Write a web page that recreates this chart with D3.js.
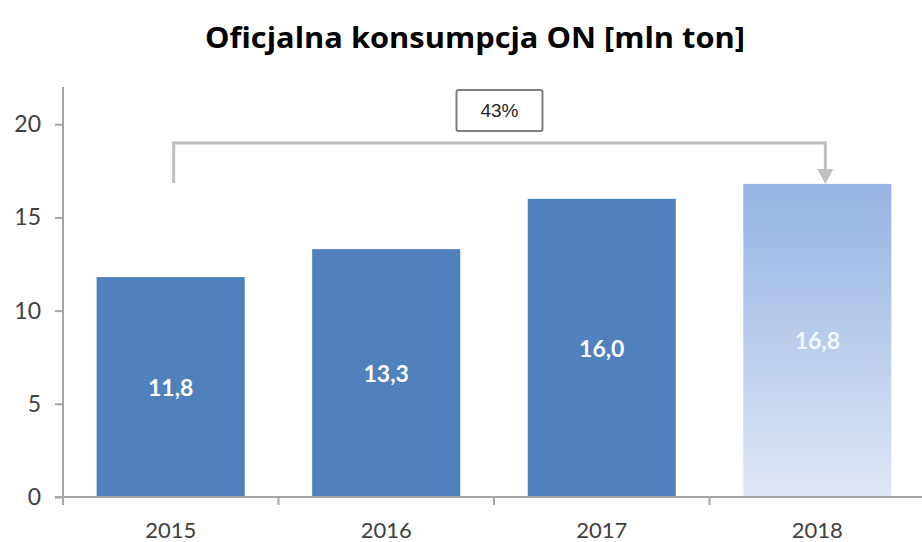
<!DOCTYPE html>
<html>
<head>
<meta charset="utf-8">
<script src="https://cdn.jsdelivr.net/npm/d3@7"></script>
<style>
  body { margin: 0; background: #fff; }
  svg { display: block; }
</style>
</head>
<body>
<div id="chart"></div>
<script>
const width = 922
const height = 542

// Data
const years = ["2015", "2016", "2017", "2018"]
const values = [11.8, 13.3, 16.0, 16.8]
const valueLabels = ["11,8", "13,3", "16,0", "16,8"]
const yTicks = [0, 5, 10, 15, 20]
const growthLabel = "43%"

const svg = d3.select("#chart")
              .append("svg")
                .attr("width", width)
                .attr("height", height)

// Gradient for the forecast bar
const defs = svg.append("defs")
const grad = defs.append("linearGradient")
                 .attr("id", "fadeBar")
                 .attr("x1", 0).attr("y1", 0)
                 .attr("x2", 0).attr("y2", 1)
grad.append("stop").attr("offset", "0%").attr("stop-color", "#95b3e3")
grad.append("stop").attr("offset", "100%").attr("stop-color", "#dfe6f4")

// Scales
const xScale = d3.scaleBand()
                 .domain(years)
                 .range([63, 925])
                 .paddingInner(0.313)
                 .paddingOuter(0.156)

const yScale = d3.scaleLinear()
                 .domain([0, 22])
                 .range([497, 87])

// Title
svg.append("text")
   .attr("x", 475)
   .attr("y", 48)
   .attr("text-anchor", "middle")
   .attr("font-family", "'Open Sans', Lato, sans-serif")
   .attr("font-weight", "bold")
   .attr("font-size", 28)
   .attr("textLength", 540)
   .attr("lengthAdjust", "spacingAndGlyphs")
   .attr("fill", "#000")
   .text("Oficjalna konsumpcja ON [mln ton]")

// Bars
svg.selectAll(".bar")
   .data(values)
   .enter()
   .append("rect")
     .attr("class", "bar")
     .attr("x", (d, i) => xScale(years[i]))
     .attr("y", d => yScale(d))
     .attr("width", xScale.bandwidth())
     .attr("height", d => yScale(0) - yScale(d))
     .attr("fill", (d, i) => i === 3 ? "url(#fadeBar)" : "#4f81bd")

// Bar value labels
svg.selectAll(".bar-label")
   .data(values)
   .enter()
   .append("text")
     .attr("class", "bar-label")
     .attr("x", (d, i) => xScale(years[i]) + xScale.bandwidth() / 2)
     .attr("y", d => (yScale(d) + yScale(0)) / 2 + 9)
     .attr("text-anchor", "middle")
     .attr("font-family", "Lato, 'Open Sans', sans-serif")
     .attr("font-weight", "bold")
     .attr("font-size", 23)
     .attr("fill", (d, i) => i === 3 ? "#f4f7fc" : "#fff")
     .text((d, i) => valueLabels[i])

// Y axis
const yAxis = d3.axisLeft(yScale)
                .tickValues(yTicks)
                .tickSize(8)
                .tickPadding(14)
                .tickFormat(d3.format("d"))

const yAxisG = svg.append("g")
                  .attr("transform", "translate(63, 0)")
                  .call(yAxis)
yAxisG.select(".domain").attr("stroke", "#a6a6a6").attr("stroke-width", 2)
      .attr("d", `M0,${yScale(22)}V${yScale(0) + 8}`)
yAxisG.selectAll(".tick line").attr("stroke", "#a6a6a6").attr("stroke-width", 2)
yAxisG.selectAll(".tick text")
      .attr("font-family", "Lato, 'Open Sans', sans-serif")
      .attr("font-size", 23)
      .attr("fill", "#404040")

// X axis: baseline with ticks at category boundaries
const xAxisG = svg.append("g")
                  .attr("transform", `translate(0, ${yScale(0)})`)
xAxisG.append("line")
      .attr("x1", 55).attr("x2", width)
      .attr("stroke", "#a6a6a6").attr("stroke-width", 2)
const step = xScale.step()
xAxisG.selectAll(".xtick")
      .data(years.slice(1))
      .enter()
      .append("line")
        .attr("x1", d => xScale(d) - step * 0.313 / 2)
        .attr("x2", d => xScale(d) - step * 0.313 / 2)
        .attr("y1", 0).attr("y2", 8)
        .attr("stroke", "#a6a6a6").attr("stroke-width", 2)
xAxisG.selectAll(".xlabel")
      .data(years)
      .enter()
      .append("text")
        .attr("x", d => xScale(d) + xScale.bandwidth() / 2)
        .attr("y", 41)
        .attr("text-anchor", "middle")
        .attr("font-family", "Lato, 'Open Sans', sans-serif")
        .attr("font-size", 22)
        .attr("fill", "#404040")
        .text(d => d)

// Growth bracket from 2015 to 2018
const x0 = xScale(years[0]) + xScale.bandwidth() / 2 + 3
const x3 = xScale(years[3]) + xScale.bandwidth() / 2 + 8
const bracketY = 143
svg.append("path")
   .attr("d", `M${x0},183V${bracketY}H${x3}V172`)
   .attr("fill", "none")
   .attr("stroke", "#bfbfbf")
   .attr("stroke-width", 3)
svg.append("path")
   .attr("d", `M${x3 - 8},169L${x3 + 8},169L${x3},184Z`)
   .attr("fill", "#bfbfbf")

// Growth box
const boxX = (x0 + x3) / 2
svg.append("rect")
   .attr("x", boxX - 43)
   .attr("y", 90)
   .attr("width", 86)
   .attr("height", 41)
   .attr("rx", 2)
   .attr("fill", "#fff")
   .attr("stroke", "#7f7f7f")
   .attr("stroke-width", 2)
svg.append("text")
   .attr("x", boxX)
   .attr("y", 117)
   .attr("text-anchor", "middle")
   .attr("font-family", "'Liberation Sans Narrow', 'Liberation Sans', Arial, sans-serif")
   .attr("font-size", 19)
   .attr("fill", "#262626")
   .text(growthLabel)
</script>
</body>
</html>
